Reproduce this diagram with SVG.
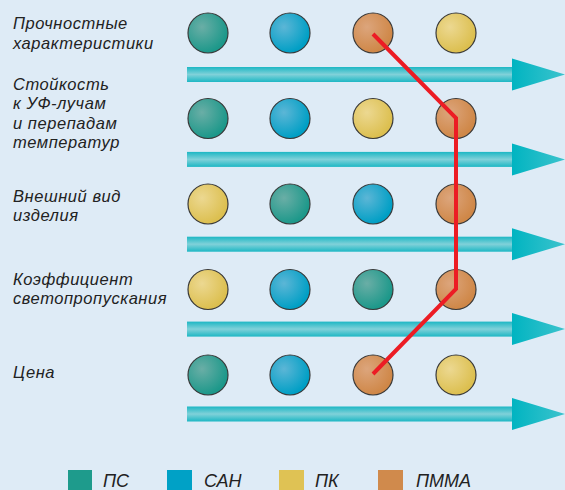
<svg xmlns="http://www.w3.org/2000/svg" width="565" height="490" viewBox="0 0 565 490">
<defs>
<linearGradient id="shaft" x1="0" y1="0" x2="0" y2="1">
<stop offset="0" stop-color="#1db7c4"/>
<stop offset="0.5" stop-color="#80d1d9"/>
<stop offset="1" stop-color="#1db7c4"/>
</linearGradient>
<linearGradient id="head" x1="0" y1="0" x2="1" y2="0">
<stop offset="0" stop-color="#00b4c1"/>
<stop offset="1" stop-color="#3cc3cd"/>
</linearGradient>
<radialGradient id="gTeal" cx="0.35" cy="0.35" r="0.65">
<stop offset="0" stop-color="#6aaea6"/>
<stop offset="1" stop-color="#1c988a"/>
</radialGradient>
<radialGradient id="gBlue" cx="0.35" cy="0.35" r="0.65">
<stop offset="0" stop-color="#5cb6d6"/>
<stop offset="1" stop-color="#009fc5"/>
</radialGradient>
<radialGradient id="gYellow" cx="0.35" cy="0.35" r="0.65">
<stop offset="0" stop-color="#ecd891"/>
<stop offset="1" stop-color="#dcbf4f"/>
</radialGradient>
<radialGradient id="gOrange" cx="0.35" cy="0.35" r="0.65">
<stop offset="0" stop-color="#dca57c"/>
<stop offset="1" stop-color="#cf8747"/>
</radialGradient>
<g id="arrow">
<rect x="187" y="-7.5" width="326" height="15" fill="url(#shaft)"/>
<polygon points="512,-16 565,0 512,16" fill="url(#head)"/>
</g>
</defs>
<style>
.lbl{font-family:"Liberation Sans",Arial,sans-serif;font-style:italic;font-size:16.5px;letter-spacing:0.55px;fill:#222}
.leg{font-family:"Liberation Sans",Arial,sans-serif;font-style:italic;font-size:18px;fill:#222}
.c{stroke:#3a3a3a;stroke-width:1.2}
.t{fill:url(#gTeal)}.b{fill:url(#gBlue)}.y{fill:url(#gYellow)}.o{fill:url(#gOrange)}
</style>
<rect width="565" height="490" fill="#deebf6"/>
<g id="arrows">
<use href="#arrow" y="74.5"/>
<use href="#arrow" y="159.4"/>
<use href="#arrow" y="244.2"/>
<use href="#arrow" y="329.1"/>
<use href="#arrow" y="414"/>
</g>
<g id="labels">
<text class="lbl" x="13" y="29">Прочностные</text>
<text class="lbl" x="13" y="49">характеристики</text>
<text class="lbl" x="13" y="90">Стойкость</text>
<text class="lbl" x="13" y="109">к УФ-лучам</text>
<text class="lbl" x="13" y="129">и перепадам</text>
<text class="lbl" x="13" y="148">температур</text>
<text class="lbl" x="13" y="202">Внешний вид</text>
<text class="lbl" x="13" y="221">изделия</text>
<text class="lbl" x="13" y="285">Коэффициент</text>
<text class="lbl" x="13" y="304">светопропускания</text>
<text class="lbl" x="13" y="378">Цена</text>
</g>
<g id="row1">
<circle class="c t" cx="208" cy="33" r="20"/>
<circle class="c b" cx="290" cy="33" r="20"/>
<circle class="c o" cx="373" cy="33" r="20"/>
<circle class="c y" cx="456" cy="33" r="20"/>
</g>
<g id="row2">
<circle class="c t" cx="208" cy="118.5" r="20"/>
<circle class="c b" cx="290" cy="118.5" r="20"/>
<circle class="c y" cx="373" cy="118.5" r="20"/>
<circle class="c o" cx="456" cy="118.5" r="20"/>
</g>
<g id="row3">
<circle class="c y" cx="208" cy="204" r="20"/>
<circle class="c t" cx="290" cy="204" r="20"/>
<circle class="c b" cx="373" cy="204" r="20"/>
<circle class="c o" cx="456" cy="204" r="20"/>
</g>
<g id="row4">
<circle class="c y" cx="208" cy="289.5" r="20"/>
<circle class="c b" cx="290" cy="289.5" r="20"/>
<circle class="c t" cx="373" cy="289.5" r="20"/>
<circle class="c o" cx="456" cy="289.5" r="20"/>
</g>
<g id="row5">
<circle class="c t" cx="208" cy="375" r="20"/>
<circle class="c b" cx="290" cy="375" r="20"/>
<circle class="c o" cx="373" cy="375" r="20"/>
<circle class="c y" cx="456" cy="375" r="20"/>
</g>
<g id="connectors">
<polyline points="373,34 456,118 456,289 373,374" fill="none" stroke="#ec1c24" stroke-width="4"/>
</g>
<g id="legend">
<rect x="68" y="470" width="24" height="20" fill="#1e9b8c"/>
<text class="leg" x="103" y="487">ПС</text>
<rect x="167" y="470" width="25" height="20" fill="#00a1c6"/>
<text class="leg" x="204" y="487">САН</text>
<rect x="279" y="470" width="25" height="20" fill="#dfc254"/>
<text class="leg" x="315" y="487">ПК</text>
<rect x="378" y="470" width="25" height="20" fill="#d08a4c"/>
<text class="leg" x="416" y="487">ПММА</text>
</g>
</svg>
